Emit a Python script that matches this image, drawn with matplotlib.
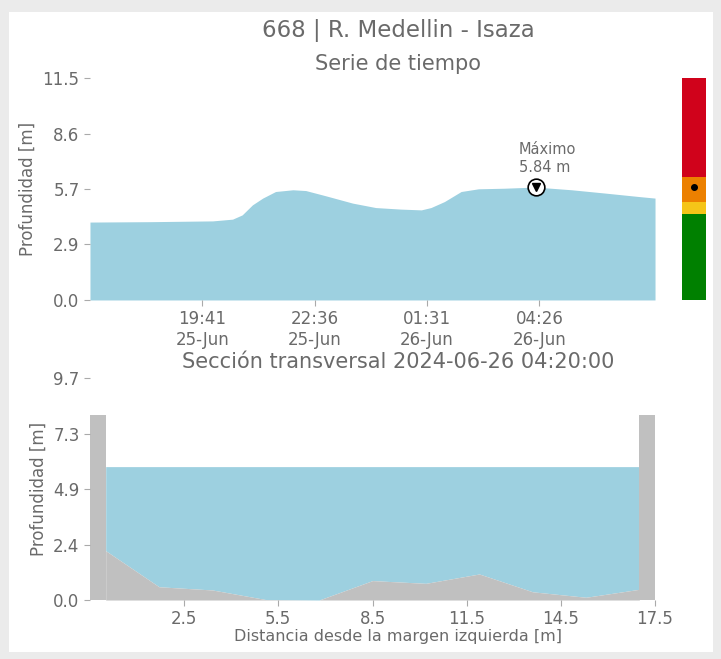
import numpy as np
import pandas as pd
import matplotlib
matplotlib.use('Agg')
import matplotlib.pyplot as plt
from matplotlib.patches import Rectangle

# serie de tiempo (lectura aproximada del grafico)
tiempos = ['2024-06-25 16:46', '2024-06-25 18:20', '2024-06-25 19:57', '2024-06-25 20:28',
           '2024-06-25 20:43', '2024-06-25 20:59', '2024-06-25 21:15', '2024-06-25 21:35',
           '2024-06-25 22:02', '2024-06-25 22:22', '2024-06-25 22:53', '2024-06-25 23:35',
           '2024-06-26 00:11', '2024-06-26 00:50', '2024-06-26 01:22', '2024-06-26 01:37',
           '2024-06-26 01:58', '2024-06-26 02:24', '2024-06-26 02:51', '2024-06-26 03:31',
           '2024-06-26 04:20', '2024-06-26 05:16', '2024-06-26 06:08', '2024-06-26 07:01',
           '2024-06-26 07:26']
profundidad = [4.03, 4.05, 4.09, 4.18, 4.40, 4.92, 5.27, 5.61, 5.70, 5.66, 5.39, 5.01,
               4.78, 4.70, 4.66, 4.78, 5.09, 5.61, 5.75, 5.78, 5.84, 5.70, 5.53, 5.35, 5.27]
ticks_tiempo = ['2024-06-25 19:41', '2024-06-25 22:36', '2024-06-26 01:31', '2024-06-26 04:26']
ticks_top_y = [0.0, 2.87, 5.74, 8.61, 11.48]

# seccion transversal
distancia = [0.0, 1.7, 3.4, 5.1, 6.8, 8.5, 10.2, 11.9, 13.6, 15.3, 17.0]
fondo = [2.16, 0.58, 0.44, 0.02, 0.0, 0.85, 0.73, 1.14, 0.36, 0.12, 0.47]
nivel = 5.84
altura_banca = 8.1
ticks_bot_y = [0.0, 2.43, 4.86, 7.29, 9.72]
ticks_bot_x = [2.5, 5.5, 8.5, 11.5, 14.5, 17.5]

# umbrales de alerta
umbrales = [0, 4.46, 5.08, 6.37, 11.48]
colores_alerta = ['#008000', '#f5c518', '#ec8000', '#d0021b']

azul = '#9dd0e0'
gris = '#c0c0c0'
texto = '#6a6a6a'
xc = 0.552  # centro de los titulos

t = pd.to_datetime(tiempos)
tt = pd.to_datetime(ticks_tiempo)

fig = plt.figure(figsize=(7.21, 6.59), dpi=100, facecolor='#ebebeb')
fig.patches.append(Rectangle((0.0125, 0.0106), 0.9765, 0.9712, transform=fig.transFigure,
                             facecolor='white', edgecolor='none', zorder=-1))

fig.text(xc, 0.953, '668 | R. Medellin - Isaza', ha='center', va='center',
         fontsize=16.5, color=texto)

# --- serie de tiempo ---
ax1 = fig.add_axes([0.1248, 0.5448, 0.7837, 0.3368])
ax1.fill_between(t, 0, profundidad, color=azul, linewidth=0)
imax = int(np.argmax(profundidad))
ax1.plot(t[imax], profundidad[imax], 'o', ms=12, mfc='white', mec='black', mew=1.2)
ax1.plot(t[imax], profundidad[imax], 'v', ms=6, color='black')
ax1.annotate('Máximo\n%.2f m' % profundidad[imax], (t[imax], profundidad[imax]),
             xytext=(-12, 9), textcoords='offset points', fontsize=10.5, color=texto,
             ha='left', va='bottom')
ax1.set_xlim(t[0], t[-1])
ax1.set_ylim(0, ticks_top_y[-1])
ax1.set_yticks(ticks_top_y)
ax1.set_yticklabels(['%.1f' % v for v in ticks_top_y])
ax1.set_xticks(tt)
ax1.set_xticklabels([d.strftime('%H:%M\n%d-%b') for d in tt])
ax1.set_ylabel('Profundidad [m]', fontsize=12, color=texto)
fig.text(xc, 1 - 64 / 659, 'Serie de tiempo', ha='center', va='center',
         fontsize=15, color=texto)

# --- barra de alertas ---
axc = fig.add_axes([0.946, 0.5448, 0.0333, 0.3368])
for i in range(len(colores_alerta)):
    axc.bar(0, umbrales[i + 1] - umbrales[i], bottom=umbrales[i], width=1,
            color=colores_alerta[i], linewidth=0)
axc.plot(0, nivel, 'o', color='black', ms=4)
axc.set_xlim(-0.5, 0.5)
axc.set_ylim(0, umbrales[-1])
axc.axis('off')

# --- seccion transversal ---
ax2 = fig.add_axes([0.1248, 0.0895, 0.7837, 0.3369])
ax2.fill_between(distancia, fondo, nivel, color=azul, linewidth=0)
ax2.fill_between(distancia, 0, fondo, color=gris, linewidth=0)
ax2.bar(-0.25, altura_banca, width=0.5, color=gris, linewidth=0)
ax2.bar(17.25, altura_banca, width=0.5, color=gris, linewidth=0)
ax2.set_xlim(-0.5, 17.5)
ax2.set_ylim(0, ticks_bot_y[-1])
ax2.set_yticks(ticks_bot_y)
ax2.set_yticklabels(['%.1f' % v for v in ticks_bot_y])
ax2.set_xticks(ticks_bot_x)
ax2.set_xlabel('Distancia desde la margen izquierda [m]', fontsize=11.5, color=texto)
ax2.xaxis.set_label_coords(0.545, -0.13)
ax2.set_ylabel('Profundidad [m]', fontsize=12, color=texto)
fig.text(xc, 1 - 362 / 659, 'Sección transversal 2024-06-26 04:20:00', ha='center',
         va='center', fontsize=15, color=texto)

for ax in (ax1, ax2):
    for s in ax.spines.values():
        s.set_visible(False)
    ax.tick_params(colors='#aaaaaa', labelcolor=texto, labelsize=12, length=4)
    ax.set_facecolor('white')

fig.savefig('out.png', dpi=100, facecolor=fig.get_facecolor())
